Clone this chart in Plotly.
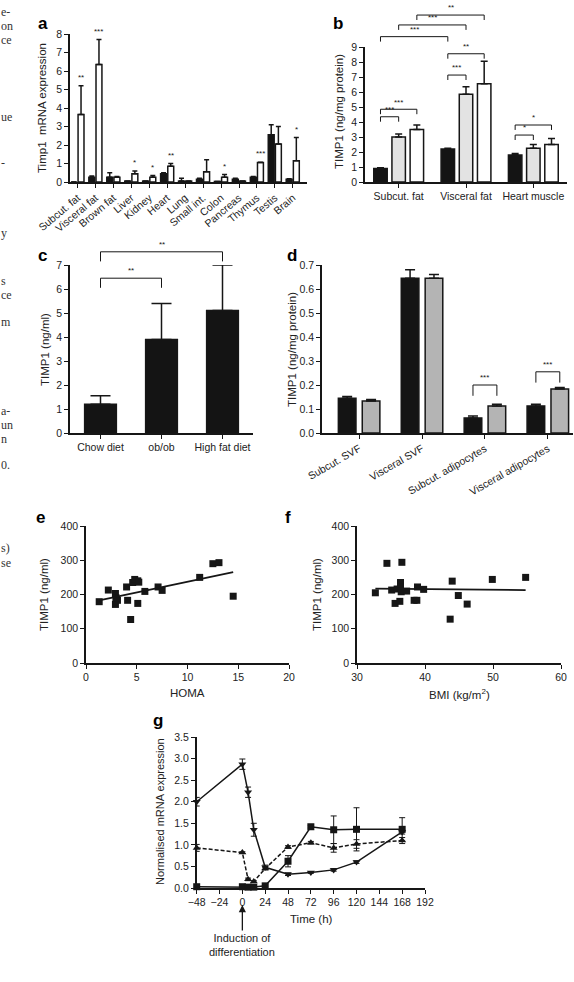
import plotly.graph_objects as go

# ---------------- data ----------------
# panel a
a_cats = ["Subcut. fat", "Visceral fat", "Brown fat", "Liver", "Kidney", "Heart", "Lung",
          "Small int.", "Colon", "Pancreas", "Thymus", "Testis", "Brain"]
a_black = [0.0, 0.25, 0.25, 0.05, 0.05, 0.45, 0.05, 0.15, 0.03, 0.15, 0.25, 2.55, 0.15]
a_black_err = [0.0, 0.07, 0.25, 0.0, 0.0, 0.05, 0.15, 0.05, 0.0, 0.05, 0.05, 0.55, 0.02]
a_white = [3.65, 6.35, 0.25, 0.45, 0.25, 0.85, 0.05, 0.55, 0.25, 0.05, 1.05, 2.05, 1.15]
a_white_err = [1.55, 1.35, 0.05, 0.15, 0.1, 0.15, 0.0, 0.65, 0.15, 0.0, 0.02, 0.95, 1.25]
a_stars = ["**", "***", "", "*", "*", "**", "", "", "*", "", "***", "", "*"]

# panel b
b_cats = ["Subcut. fat", "Visceral fat", "Heart muscle"]
b_black = [0.9, 2.2, 1.8]
b_black_err = [0.05, 0.05, 0.1]
b_gray = [3.0, 5.85, 2.25]
b_gray_err = [0.2, 0.5, 0.25]
b_white = [3.5, 6.55, 2.5]
b_white_err = [0.3, 1.5, 0.4]
# (group from, bar from, group to, bar to, bracket height, label)
b_brackets = [
    (0, 0, 0, 1, 4.35, "***"),
    (0, 0, 0, 2, 4.85, "***"),
    (1, 0, 1, 1, 7.13, "***"),
    (1, 0, 1, 2, 8.55, "**"),
    (2, 0, 2, 1, 3.13, "*"),
    (2, 0, 2, 2, 3.8, "*"),
    (0, 0, 1, 0, 9.69, "***"),
    (0, 1, 1, 1, 10.47, "***"),
    (0, 2, 1, 2, 11.13, "**"),
]

# panel c
c_cats = ["Chow diet", "ob/ob", "High fat diet"]
c_vals = [1.2, 3.9, 5.1]
c_err = [0.35, 1.5, 1.9]
c_brackets = [(0, 1, 6.45, "**"), (0, 2, 7.55, "**")]

# panel d
d_cats = ["Subcut. SVF", "Visceral SVF", "Subcut. adipocytes", "Visceral adipocytes"]
d_black = [0.145, 0.645, 0.063, 0.113]
d_black_err = [0.007, 0.035, 0.008, 0.007]
d_gray = [0.133, 0.645, 0.113, 0.183]
d_gray_err = [0.007, 0.015, 0.007, 0.007]
d_brackets = [(2, 0.2, "***"), (3, 0.255, "***")]

# panel e
e_homa = [1.3, 2.2, 2.9, 2.9, 3.1, 2.95, 4.0, 4.1, 4.4, 4.6, 4.8, 5.1, 5.2, 5.1, 5.8,
          7.1, 7.5, 11.2, 12.5, 13.1, 14.5]
e_timp = [179, 213, 203, 171, 183, 191, 222, 183, 127, 235, 244, 240, 236, 174, 209,
          222, 212, 250, 290, 293, 195]
e_fit_x = [1.3, 14.5]
e_fit_y = [183, 265]

# panel f
f_bmi = [32.7, 34.4, 35.1, 35.6, 35.9, 36.3, 36.4, 36.4, 36.6, 36.5, 37.3, 38.4, 38.8,
         38.9, 39.8, 43.7, 44.0, 44.9, 46.2, 49.9, 54.8]
f_timp = [205, 291, 213, 174, 216, 180, 235, 222, 294, 208, 210, 183, 183, 222, 215,
          128, 239, 197, 172, 244, 250]
f_fit_x = [32.7, 54.8]
f_fit_y = [217, 213]

# panel g
g_time = [-48, 0, 6, 12, 24, 48, 72, 96, 120, 168]
g_sq = [0.03, 0.03, 0.02, 0.02, 0.05, 0.62, 1.42, 1.35, 1.36, 1.36]
g_sq_err = [0.02, 0.01, 0.01, 0.01, 0.02, 0.13, 0.03, 0.32, 0.5, 0.27]
g_tdown = [2.0, 2.87, 2.22, 1.35, 0.48, 0.32, 0.36, 0.42, 0.6, 1.3]
g_tdown_err = [0.1, 0.12, 0.12, 0.15, 0.05, 0.03, 0.02, 0.03, 0.03, 0.05]
g_tup = [0.93, 0.82, 0.2, 0.15, 0.45, 0.95, 1.05, 0.93, 1.02, 1.1]
g_tup_err = [0.08, 0.02, 0.03, 0.02, 0.03, 0.03, 0.03, 0.1, 0.1, 0.07]
g_ticks = [-48, -24, 0, 24, 48, 72, 96, 120, 144, 168, 192]

# page text fragments at left margin
frag_text = ["e-", "on", "ce", "ue", "-", "y", "s", "ce", "m", "a-", "un", "n", "0.", "s)", "se"]

# ---------------- style / layout ----------------
W, H = 574, 982
FONT = "Liberation Sans, Arial, Helvetica, sans-serif"
INK = "#161616"


def fx(p):
    return p / W


def fy(p):
    return 1 - p / H


fig = go.Figure()


def add_bar(x, y, err, n, color, width, offset, cap):
    fig.add_trace(go.Bar(
        x=x, y=y, xaxis="x" + n, yaxis="y" + n, width=width, offset=offset,
        marker=dict(color=color, line=dict(color=INK, width=1.5)),
        error_y=dict(type="data", symmetric=False, array=err, arrayminus=[0] * len(err),
                     color=INK, thickness=1.5, width=cap),
        hoverinfo="skip"))


# panel a
add_bar(a_cats, a_black, a_black_err, "", "#141414", 0.33, -0.37, 2.5)
add_bar(a_cats, a_white, a_white_err, "", "white", 0.33, 0.03, 2.5)
# panel b
add_bar(b_cats, b_black, b_black_err, "2", "#141414", 0.2, -0.37, 3.5)
add_bar(b_cats, b_gray, b_gray_err, "2", "#e3e3e3", 0.2, -0.10, 3.5)
add_bar(b_cats, b_white, b_white_err, "2", "white", 0.2, 0.17, 3.5)
# panel c
add_bar(c_cats, c_vals, c_err, "3", "#141414", 0.52, -0.26, 10)
# panel d
add_bar(d_cats, d_black, d_black_err, "4", "#141414", 0.28, -0.33, 5)
add_bar(d_cats, d_gray, d_gray_err, "4", "#b4b4b4", 0.28, 0.05, 5)

# panel e / f scatter
for xs, ys, fxs, fys, n in [(e_homa, e_timp, e_fit_x, e_fit_y, "5"),
                             (f_bmi, f_timp, f_fit_x, f_fit_y, "6")]:
    fig.add_trace(go.Scatter(x=xs, y=ys, xaxis="x" + n, yaxis="y" + n, mode="markers",
                             marker=dict(symbol="square", size=7, color=INK), hoverinfo="skip"))
    fig.add_trace(go.Scatter(x=fxs, y=fys, xaxis="x" + n, yaxis="y" + n, mode="lines",
                             line=dict(color=INK, width=1.8), hoverinfo="skip"))

# panel g
for ys, errs, sym, dash in [(g_tup, g_tup_err, "triangle-up", "4px,2px"),
                            (g_tdown, g_tdown_err, "triangle-down", "solid"),
                            (g_sq, g_sq_err, "square", "solid")]:
    fig.add_trace(go.Scatter(
        x=g_time, y=ys, xaxis="x7", yaxis="y7", mode="lines+markers",
        line=dict(color=INK, width=1.5, dash=dash),
        marker=dict(symbol=sym, size=7, color=INK),
        error_y=dict(type="data", array=errs, color=INK, thickness=1, width=3),
        cliponaxis=False, hoverinfo="skip"))


def ax(**kw):
    d = dict(showline=True, linecolor=INK, linewidth=1.5, ticks="outside", ticklen=4,
             tickwidth=1.3, tickcolor=INK, showgrid=False, zeroline=False,
             tickfont=dict(family=FONT, size=10.5, color="#222"), fixedrange=True)
    d.update(kw)
    return d


cat = dict(type="category", tickmode="linear", tick0=0, dtick=1)
layout_axes = dict(
    xaxis=ax(domain=[fx(70), fx(307)], anchor="y", categoryorder="array", categoryarray=a_cats,
             range=[-0.42, 12.79], tickangle=-40, **cat),
    yaxis=ax(domain=[fy(182), fy(34)], anchor="x", range=[0, 8], dtick=1),
    xaxis2=ax(domain=[fx(365), fx(567)], anchor="y2", categoryorder="array", categoryarray=b_cats,
              range=[-0.5, 2.5], tickangle=0, **cat),
    yaxis2=ax(domain=[fy(182), fy(47)], anchor="x2", range=[0, 9], dtick=1),
    xaxis3=ax(domain=[fx(70), fx(253)], anchor="y3", categoryorder="array", categoryarray=c_cats,
              range=[-0.5, 2.5], tickangle=0, **cat),
    yaxis3=ax(domain=[fy(433), fy(265)], anchor="x3", range=[0, 7], dtick=1),
    xaxis4=ax(domain=[fx(322), fx(573)], anchor="y4", categoryorder="array", categoryarray=d_cats,
              range=[-0.59, 3.4], tickangle=-30, **cat),
    yaxis4=ax(domain=[fy(433), fy(265)], anchor="x4", range=[0, 0.7], dtick=0.1, tickformat=".1f"),
    xaxis5=ax(domain=[fx(86), fx(289)], anchor="y5", range=[0, 20], dtick=5),
    yaxis5=ax(domain=[fy(663), fy(526)], anchor="x5", range=[0, 400], dtick=100),
    xaxis6=ax(domain=[fx(357), fx(561)], anchor="y6", range=[30, 60], dtick=10),
    yaxis6=ax(domain=[fy(663), fy(526)], anchor="x6", range=[0, 400], dtick=100),
    xaxis7=ax(domain=[fx(196.7), fx(425)], anchor="y7", range=[-48, 192], tickmode="array",
              tickvals=g_ticks),
    yaxis7=ax(domain=[fy(888), fy(737)], anchor="x7", range=[0, 3.5], dtick=0.5, tickformat=".1f"),
)

shapes = []
annotations = []


def star(text, xref, yref, x, y, size=8):
    annotations.append(dict(text=text, xref=xref, yref=yref, x=x, y=y, showarrow=False,
                            yanchor="bottom", xanchor="center",
                            font=dict(family=FONT, size=size, color=INK)))


def bracket(n, xr, yr, x0, x1, top, leg, text):
    X = lambda v: (v - xr[0]) / (xr[1] - xr[0])
    Y = lambda v: (v - yr[0]) / (yr[1] - yr[0])
    xa = ("x" + n) + " domain"
    ya = ("y" + n) + " domain"
    for (p, q, r, s) in [(x0, top - leg, x0, top), (x0, top, x1, top), (x1, top, x1, top - leg)]:
        shapes.append(dict(type="line", xref=xa, yref=ya, x0=X(p), y0=Y(q), x1=X(r), y1=Y(s),
                           line=dict(color=INK, width=1)))
    star(text, xa, ya, X((x0 + x1) / 2), Y(top) + 0.005)


# stars panel a
for i, s in enumerate(a_stars):
    if s:
        star(s, "x", "y", i + 0.195, a_white[i] + a_white_err[i] + 0.1)

# brackets panel b
b_off = [-0.27, 0.0, 0.27]
for g0, k0, g1, k1, top, lab in b_brackets:
    bracket("2", [-0.5, 2.5], [0, 9], g0 + b_off[k0], g1 + b_off[k1], top, 0.33, lab)
# brackets panel c
for c0, c1, top, lab in c_brackets:
    bracket("3", [-0.5, 2.5], [0, 7], c0, c1, top, 0.4, lab)
# brackets panel d
for k, top, lab in d_brackets:
    bracket("4", [-0.59, 3.4], [0, 0.7], k - 0.19, k + 0.19, top, 0.045, lab)


def label(text, x, y, size=17):
    annotations.append(dict(text="<b>%s</b>" % text, xref="paper", yref="paper", x=fx(x), y=fy(y),
                            showarrow=False, xanchor="center", yanchor="middle",
                            font=dict(family=FONT, size=size, color="#000")))


for t, x, y in [("a", 43, 24), ("b", 338, 24), ("c", 42, 256), ("d", 292, 256),
                ("e", 40, 517), ("f", 288, 517), ("g", 158, 720)]:
    label(t, x, y)


def title(text, x, y, angle=-90, size=11.5):
    annotations.append(dict(text=text, xref="paper", yref="paper", x=fx(x), y=fy(y),
                            showarrow=False, xanchor="center", yanchor="middle", textangle=angle,
                            font=dict(family=FONT, size=size, color="#222")))


title("Timp1  mRNA expression", 42, 108)
title("TIMP1 (ng/mg protein)", 339, 112)
title("TIMP1 (ng/ml)", 45, 350)
title("TIMP1 (ng/mg protein)", 292, 350)
title("TIMP1 (ng/ml)", 44, 595)
title("TIMP1 (ng/ml)", 317, 595)
title("Normalised mRNA expression", 160, 812, size=11)
title("HOMA", 187, 693, angle=0)
title("BMI (kg/m<sup>2</sup>)", 459, 694, angle=0)
title("Time (h)", 311, 919, angle=0)

# arrow for induction of differentiation
annotations.append(dict(text="Induction of<br>differentiation", xref="x7", yref="paper", x=0,
                        y=fy(905), ax=0, ay=40, showarrow=True, arrowhead=2, arrowsize=1.1,
                        arrowwidth=1.3, arrowcolor=INK,
                        font=dict(family=FONT, size=11, color="#222")))

# left margin fragments of page text
frag_y = [12, 26, 40, 117, 163, 233, 281, 295, 322, 411, 425, 439, 465, 548, 563]
for t, y in zip(frag_text, frag_y):
    annotations.append(dict(text=t, xref="paper", yref="paper", x=0, y=fy(y), showarrow=False,
                            xanchor="left", yanchor="middle", borderpad=0,
                            font=dict(family="Liberation Serif, Times New Roman, serif", size=12,
                                      color="#333")))

fig.update_layout(
    template="none", width=W, height=H, autosize=False, showlegend=False,
    margin=dict(l=0, r=0, t=0, b=0), paper_bgcolor="white", plot_bgcolor="white",
    barmode="overlay", shapes=shapes, annotations=annotations,
    font=dict(family=FONT, color="#222"),
    **layout_axes)

fig.write_html("out.html", config={"displayModeBar": False},
               post_script="document.body.style.margin='0';document.body.style.overflow='hidden';")
